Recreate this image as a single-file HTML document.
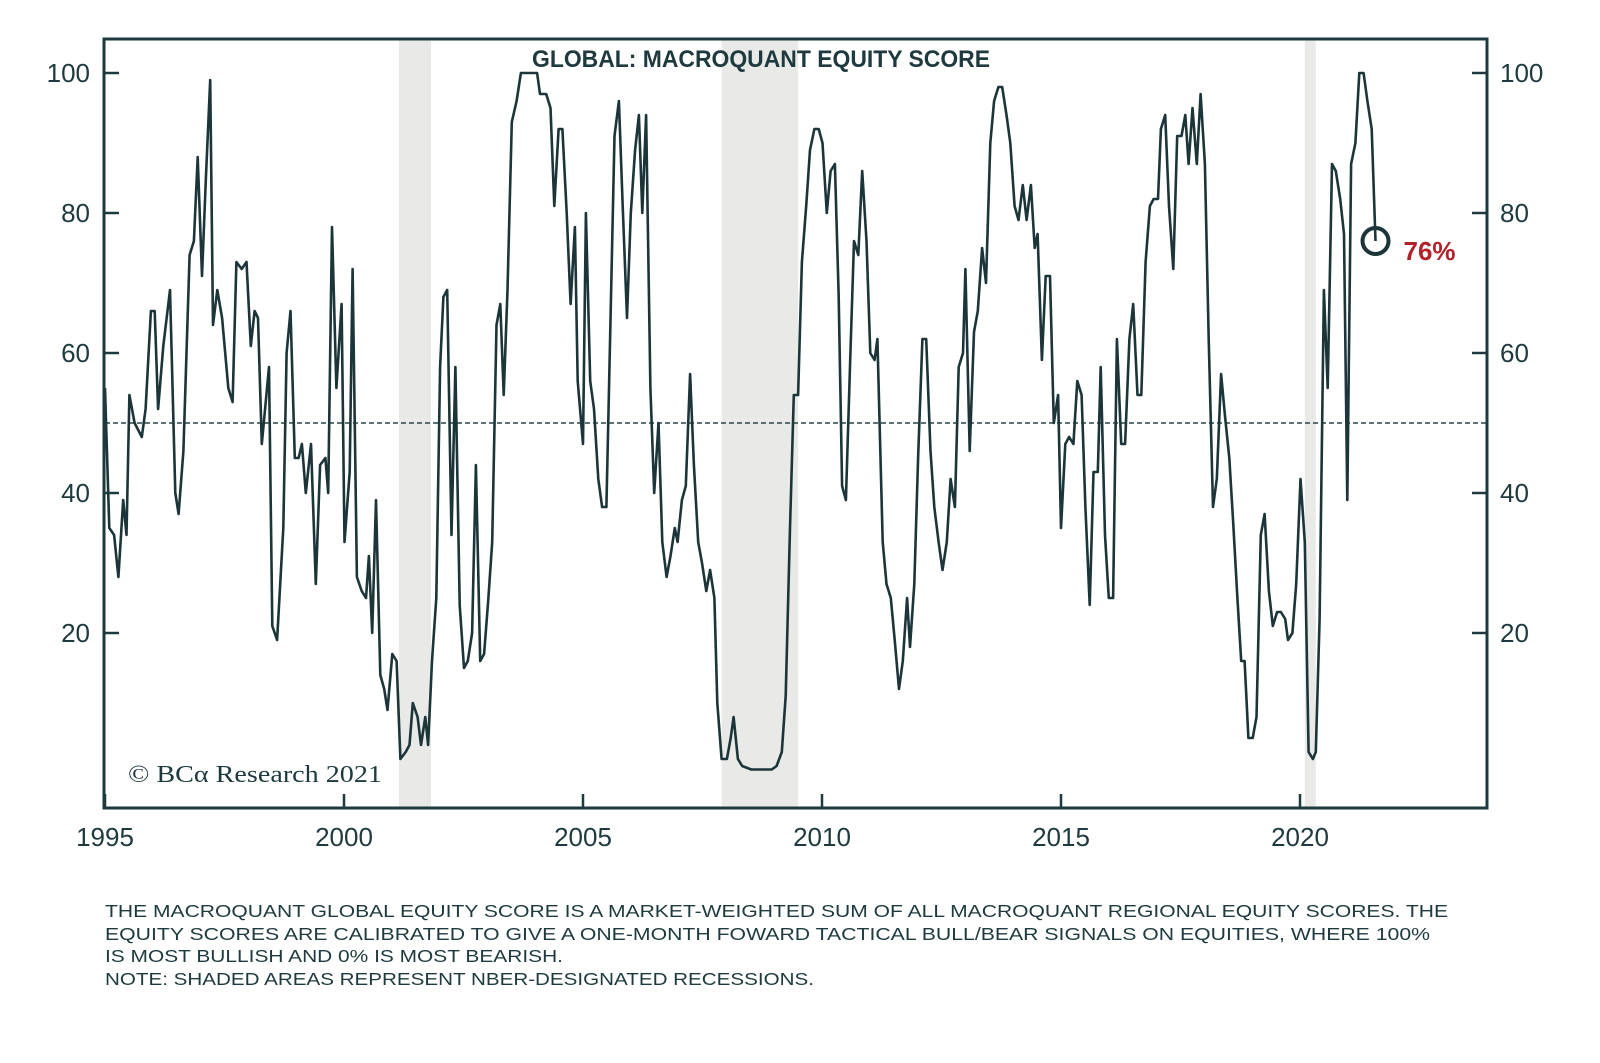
<!DOCTYPE html>
<html>
<head>
<meta charset="utf-8">
<style>
  html, body { margin: 0; padding: 0; background: #ffffff; }
  body { width: 1600px; height: 1063px; overflow: hidden; }
  svg { display: block; }
  text { font-family: "Liberation Sans", sans-serif; fill: #1e3a3e; }
</style>
</head>
<body>
<svg id="chart" width="1600" height="1063" viewBox="0 0 1600 1063">
  <g id="recessions"></g>
  <line id="midline" stroke="#2a4447" stroke-width="1.5" stroke-dasharray="5,3"></line>
  <g id="series"></g>
  <rect x="104" y="39" width="1383" height="769" fill="none" stroke="#1e3a3e" stroke-width="3"></rect>
  <g id="yticks-left"></g>
  <g id="yticks-right"></g>
  <g id="xticks"></g>
  <text x="761" y="67" text-anchor="middle" font-size="24" font-weight="bold" textLength="458" lengthAdjust="spacingAndGlyphs">GLOBAL: MACROQUANT EQUITY SCORE</text>
  <text x="128" y="782" font-family="Liberation Serif, serif" font-size="24" style="font-family:'Liberation Serif',serif" textLength="254" lengthAdjust="spacingAndGlyphs">© BCα Research 2021</text>
  <g id="marker"></g>
  <g font-size="17.5">
    <text x="105" y="917" textLength="1343" lengthAdjust="spacingAndGlyphs">THE MACROQUANT GLOBAL EQUITY SCORE IS A MARKET-WEIGHTED SUM OF ALL MACROQUANT REGIONAL EQUITY SCORES. THE</text>
    <text x="105" y="940" textLength="1325" lengthAdjust="spacingAndGlyphs">EQUITY SCORES ARE CALIBRATED TO GIVE A ONE-MONTH FOWARD TACTICAL BULL/BEAR SIGNALS ON EQUITIES, WHERE 100%</text>
    <text x="105" y="962" textLength="458" lengthAdjust="spacingAndGlyphs">IS MOST BULLISH AND 0% IS MOST BEARISH.</text>
    <text x="105" y="985" textLength="709" lengthAdjust="spacingAndGlyphs">NOTE: SHADED AREAS REPRESENT NBER-DESIGNATED RECESSIONS.</text>
  </g>
</svg>
<script>
const baseYear = 1995;
const dateOffsets = [0,.09,.19,.28,.38,.45,.51,.62,.77,.85,.96,1.04,1.11,1.22,1.36,1.47,1.54,1.64,1.77,1.86,1.94,2.03,2.11,2.20,2.26,2.35,2.45,2.58,2.67,2.75,2.86,2.96,3.05,3.13,3.20,3.28,3.43,3.50,3.60,3.73,3.80,3.88,3.97,4.05,4.12,4.20,4.31,4.41,4.50,4.61,4.67,4.75,4.84,4.95,5.01,5.12,5.18,5.27,5.37,5.46,5.52,5.59,5.67,5.76,5.84,5.91,6.01,6.10,6.18,6.29,6.37,6.44,6.54,6.61,6.70,6.76,6.84,6.93,7.01,7.08,7.16,7.25,7.33,7.42,7.51,7.59,7.68,7.76,7.85,7.93,8.02,8.10,8.19,8.27,8.34,8.42,8.51,8.61,8.70,8.78,8.93,9.04,9.10,9.23,9.32,9.40,9.49,9.57,9.66,9.74,9.83,9.89,10.00,10.06,10.15,10.23,10.32,10.40,10.49,10.58,10.66,10.75,10.83,10.92,11.00,11.09,11.17,11.24,11.32,11.41,11.49,11.58,11.66,11.75,11.83,11.92,11.98,12.07,12.15,12.24,12.32,12.41,12.49,12.58,12.66,12.75,12.81,12.90,13.01,13.09,13.15,13.24,13.33,13.52,13.73,13.95,14.05,14.16,14.24,14.33,14.41,14.50,14.58,14.67,14.75,14.84,14.93,15.01,15.10,15.18,15.27,15.35,15.42,15.50,15.59,15.67,15.76,15.84,15.93,16.01,16.10,16.16,16.27,16.35,16.44,16.52,16.61,16.69,16.78,16.84,16.93,17.01,17.10,17.18,17.27,17.35,17.44,17.52,17.61,17.69,17.78,17.86,17.95,18.00,18.09,18.18,18.26,18.35,18.43,18.52,18.60,18.69,18.77,18.86,18.94,19.03,19.11,19.20,19.28,19.37,19.45,19.51,19.60,19.68,19.77,19.85,19.94,20.00,20.09,20.17,20.26,20.34,20.43,20.51,20.60,20.68,20.77,20.83,20.92,21.00,21.09,21.17,21.26,21.34,21.43,21.51,21.60,21.68,21.77,21.86,21.94,22.03,22.09,22.18,22.26,22.35,22.43,22.52,22.60,22.67,22.75,22.84,22.92,23.01,23.09,23.18,23.26,23.35,23.43,23.52,23.60,23.69,23.77,23.84,23.92,24.01,24.09,24.18,24.26,24.35,24.43,24.52,24.60,24.69,24.75,24.84,24.92,25.01,25.10,25.18,25.27,25.33,25.41,25.50,25.58,25.67,25.75,25.84,25.92,25.99,26.07,26.16,26.24,26.33,26.41,26.50,26.58];
const scoreValues = [55,35,34,28,39,34,54,50,48,52,66,66,52,61,69,40,37,46,74,76,88,71,85,99,64,69,65,55,53,73,72,73,61,66,65,47,58,21,19,35,60,66,45,45,47,40,47,27,44,45,40,78,55,67,33,43,72,28,26,25,31,20,39,14,12,9,17,16,2,3,4,10,8,4,8,4,16,25,58,68,69,34,58,24,15,16,20,44,16,17,25,33,64,67,54,69,93,96,100,100,100,100,97,97,95,81,92,92,80,67,78,56,47,80,56,52,42,38,38,66,91,96,81,65,80,89,94,80,94,55,40,50,33,28,31,35,33,39,41,57,44,33,30,26,29,25,10,2,2,5,8,2,1,0.5,0.5,0.5,1,3,11,35,54,54,73,81,89,92,92,90,80,86,87,68,41,39,59,76,74,86,76,60,59,62,33,27,25,19,12,16,25,18,27,45,62,62,46,38,33,29,33,42,38,58,60,72,46,63,66,75,70,90,96,98,98,94,90,81,79,84,79,84,75,77,59,71,71,50,54,35,47,48,47,56,54,38,24,43,43,58,34,25,25,62,47,47,62,67,54,54,73,81,82,82,92,94,81,72,91,91,94,87,95,87,97,87,62,38,42,57,51,45,36,25,16,16,5,5,8,34,37,26,21,23,23,22,19,20,27,42,33,3,2,3,22,69,55,87,86,82,77,39,87,90,100,100,96,92,76];
const recessionStarts = [2001.15, 2007.9, 2020.1];
const recessionEnds = [2001.82, 2009.5, 2020.33];
const yTicks = [20, 40, 60, 80, 100];
const xTicks = [1995, 2000, 2005, 2010, 2015, 2020];
const latestLabel = ["76%"];
const referenceLevel = [50];

const NS = "http://www.w3.org/2000/svg";
const X0 = 105, PX_PER_YEAR = 47.8, Y0 = 773, PX_PER_UNIT = 7.0;
const xs = yr => X0 + (yr - 1995) * PX_PER_YEAR;
const ys = v => Y0 - v * PX_PER_UNIT;
function mk(tag, attrs, parent) {
  const e = document.createElementNS(NS, tag);
  for (const k in attrs) e.setAttribute(k, attrs[k]);
  parent.appendChild(e);
  return e;
}

const rg = document.getElementById('recessions');
recessionStarts.forEach((s, i) => {
  const r = mk('rect', {x: xs(s), y: 40, width: xs(recessionEnds[i]) - xs(s), height: 767, fill: '#e9eae7'}, rg);
  
  
});

const ml = document.getElementById('midline');
ml.setAttribute('x1', 105); ml.setAttribute('x2', 1486);
ml.setAttribute('y1', ys(referenceLevel[0])); ml.setAttribute('y2', ys(referenceLevel[0]));

const sg = document.getElementById('series');
let d = '';
dateOffsets.forEach((o, i) => {
  d += (i ? 'L' : 'M') + xs(baseYear + o).toFixed(1) + ',' + ys(scoreValues[i]).toFixed(1);
});
const path = mk('path', {d: d, fill: 'none', stroke: '#1c3538', 'stroke-width': 2.6, 'stroke-linejoin': 'round'}, sg);



const yl = document.getElementById('yticks-left');
const yr = document.getElementById('yticks-right');
yTicks.forEach(t => {
  const y = ys(t);
  const l1 = mk('line', {x1: 104, x2: 119, y1: y, y2: y, stroke: '#1e3a3e', 'stroke-width': 2.5}, yl);
  
  
  const t1 = mk('text', {x: 90, y: y + 9, 'text-anchor': 'end', 'font-size': 26}, yl);
  t1.textContent = t;
  
  
  const l2 = mk('line', {x1: 1472, x2: 1487, y1: y, y2: y, stroke: '#1e3a3e', 'stroke-width': 2.5}, yr);
  
  
  const t2 = mk('text', {x: 1500, y: y + 9, 'text-anchor': 'start', 'font-size': 26}, yr);
  t2.textContent = t;
  
  
});

const xg = document.getElementById('xticks');
xTicks.forEach(t => {
  const x = xs(t);
  const l = mk('line', {x1: x, x2: x, y1: 794, y2: 808, stroke: '#1e3a3e', 'stroke-width': 2.5}, xg);
  
  
  const tx = mk('text', {x: x, y: 846, 'text-anchor': 'middle', 'font-size': 26}, xg);
  tx.textContent = t;
  
  
});

const mg = document.getElementById('marker');
const li = dateOffsets.length - 1;
const cx = xs(baseYear + dateOffsets[li]), cy = ys(scoreValues[li]);
const c = mk('circle', {cx: cx, cy: cy, r: 13, fill: 'none', stroke: '#1c3538', 'stroke-width': 4}, mg);


const lt = mk('text', {x: cx + 28, y: cy + 19, 'font-size': 26, 'font-weight': 'bold', style: 'fill:#b3222b'}, mg);
lt.textContent = latestLabel[0];


</script>
</body>
</html>
